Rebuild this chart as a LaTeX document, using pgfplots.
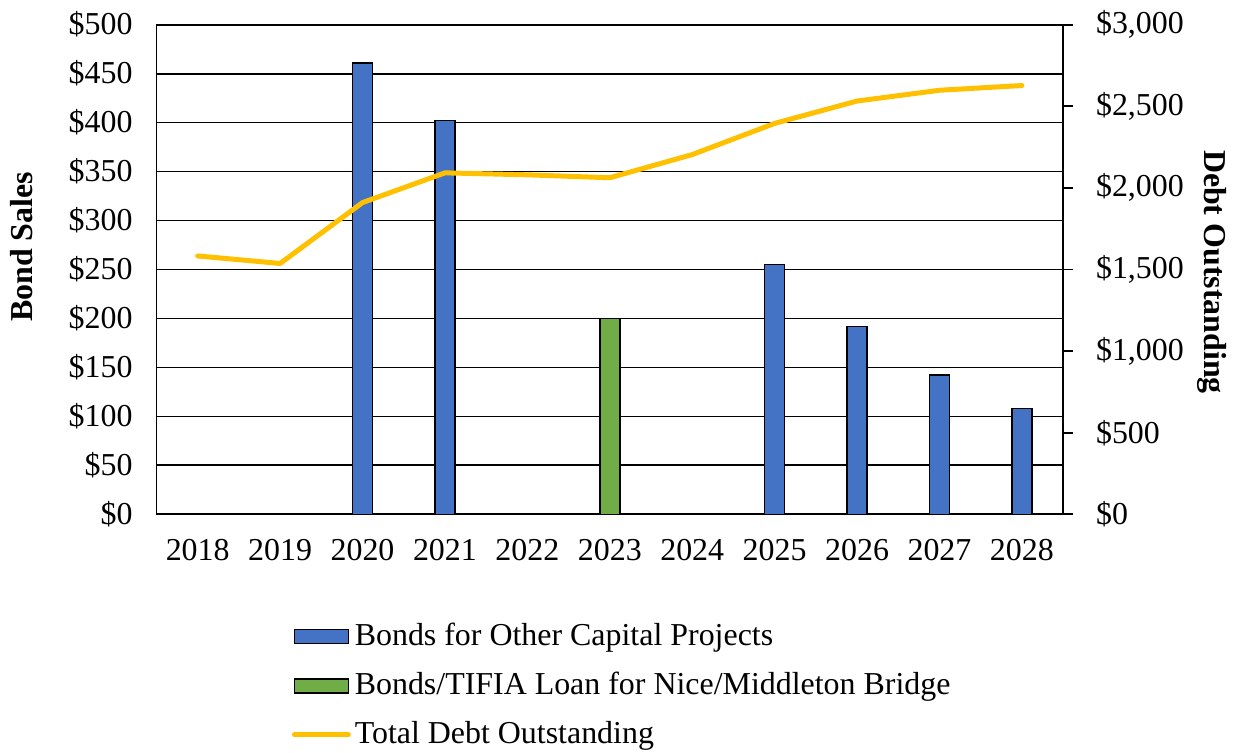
\documentclass[border=0pt]{standalone}
\usepackage{fontspec}
\setmainfont{Liberation Serif}
\usepackage{pgfplots}
\pgfplotsset{compat=1.18}
\definecolor{barblue}{HTML}{4472C4}
\definecolor{bargreen}{HTML}{70AD47}
\definecolor{lineyellow}{HTML}{FFC000}

\pgfplotsset{
  common/.style={
    scale only axis,
    width=454.5pt, height=245.5pt,
    xmin=-0.5, xmax=10.5,
    /pgf/number format/assume math mode=true,
    /pgf/number format/1000 sep={,},
    tick label style={font=\fontsize{16pt}{19pt}\selectfont},
    label style={font=\fontsize{16pt}{19pt}\selectfont\bfseries},
  },
}

\begin{document}
\fontsize{16pt}{19pt}\selectfont
\begin{tikzpicture}
\begin{axis}[
  common,
  ymin=0, ymax=500,
  xtick={0,...,10},
  xticklabels={2018,2019,2020,2021,2022,2023,2024,2025,2026,2027,2028},
  xticklabel style={yshift=-7pt},
  ytick={0,50,...,500},
  yticklabel={\$\pgfmathprintnumber{\tick}},
  yticklabel style={xshift=-6.5pt},
  major tick length=0pt,
  ymajorgrids,
  grid style={black, line width=0.9pt},
  axis line style={black, line width=0.9pt},
  ybar, bar width=10pt, bar shift=0pt,
  ylabel={Bond Sales},
  ylabel style={at={(axis description cs:-0.1485,0.546)}, anchor=center},
  legend style={at={(axis description cs:0.149,-0.213)}, anchor=north west,
    draw=none, fill=none, font=\fontsize{16pt}{19pt}\selectfont,
    row sep=7pt, inner sep=0pt},
  legend cell align=left,
]
\addplot[fill=barblue, draw=black, line width=0.8pt,
  legend image code/.code={\draw[fill=barblue, draw=black, line width=0.8pt] (0pt,-3.5pt) rectangle (27pt,3.5pt);}]
  coordinates {(2,461) (3,402) (7,255) (8,192) (9,142) (10,108)};
\addlegendentry{Bonds for Other Capital Projects}
\addplot[fill=bargreen, draw=black, line width=0.8pt,
  legend image code/.code={\draw[fill=bargreen, draw=black, line width=0.8pt] (0pt,-3.5pt) rectangle (27pt,3.5pt);}]
  coordinates {(5,200)};
\addlegendentry{Bonds/TIFIA Loan for Nice/Middleton Bridge}
\addlegendimage{legend image code/.code={\draw[lineyellow, line width=2.5pt, line cap=round] (0pt,0pt) -- (27pt,0pt);}}
\addlegendentry{Total Debt Outstanding}
\end{axis}

\begin{axis}[
  common,
  ymin=0, ymax=3000,
  axis x line=none,
  axis y line*=right,
  ytick={0,500,...,3000},
  yticklabel={\$\pgfmathprintnumber{\tick}},
  yticklabel style={xshift=6pt},
  ytick style={black, line width=0.9pt},
  major tick length=5pt,
  tick align=outside,
  axis line style={black, line width=0.9pt},
  ylabel={Debt Outstanding},
  ylabel style={at={(axis description cs:1.164,0.495)}, anchor=center, rotate=180},
]
\addplot[lineyellow, line width=2.5pt, line join=round, line cap=round]
  coordinates {(0,1583) (1,1537) (2,1910) (3,2092) (4,2080) (5,2062) (6,2204) (7,2395) (8,2532) (9,2598) (10,2627)};
\end{axis}
\end{tikzpicture}
\end{document}
